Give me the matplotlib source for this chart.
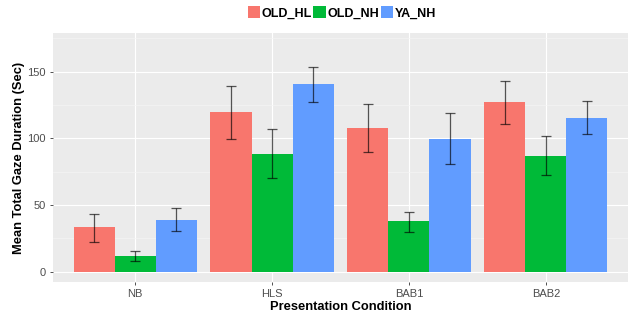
import matplotlib.pyplot as plt
import numpy as np
from matplotlib.patches import Patch

# data
conditions = ["NB", "HLS", "BAB1", "BAB2"]
groups = ["OLD_HL", "OLD_NH", "YA_NH"]
colors = ["#F8766D", "#00BA38", "#619CFF"]

old_hl = [33.3, 119.6, 108.0, 127.3]
old_nh = [11.8, 88.3, 37.8, 87.0]
ya_nh = [38.8, 140.6, 99.8, 115.5]

old_hl_lo = [22.5, 99.3, 90.0, 110.8]
old_hl_hi = [43.1, 139.3, 125.8, 143.3]
old_nh_lo = [8.3, 70.3, 29.8, 72.5]
old_nh_hi = [15.8, 107.0, 44.8, 101.6]
ya_nh_lo = [30.5, 127.0, 81.0, 103.5]
ya_nh_hi = [47.6, 153.5, 119.0, 128.3]

means = [old_hl, old_nh, ya_nh]
lows = [old_hl_lo, old_nh_lo, ya_nh_lo]
highs = [old_hl_hi, old_nh_hi, ya_nh_hi]

plt.rcParams['font.family'] = ['Liberation Sans', 'DejaVu Sans']

fig = plt.figure(figsize=(6.28, 3.16), dpi=100)
ax = fig.add_axes([53 / 628, 1 - 282 / 316, 1 - 53 / 628, (282 - 33) / 316])
ax.set_facecolor("#EBEBEB")

x = np.arange(len(conditions))
bw = 0.3
for i in range(3):
    xs = x + (i - 1) * bw
    m = np.array(means[i])
    lo = m - np.array(lows[i])
    hi = np.array(highs[i]) - m
    ax.bar(xs, m, width=bw, color=colors[i], edgecolor="none", zorder=2)
    ax.errorbar(xs, m, yerr=[lo, hi], fmt="none", ecolor="black", alpha=0.65,
                elinewidth=0.9, capsize=3.6, capthick=0.9, zorder=3)

ax.set_xlim(-0.6, 3.6)
ax.set_ylim(-7.7, 179)
ax.set_yticks([0, 50, 100, 150])
ax.set_yticks([25, 75, 125, 175], minor=True)
ax.set_xticks(x)
ax.set_xticklabels(conditions)

ax.grid(which="major", color="white", linewidth=0.8, zorder=0)
ax.grid(which="minor", axis="y", color="#F5F5F5", linewidth=0.45, zorder=0)
ax.set_axisbelow(True)
for s in ax.spines.values():
    s.set_visible(False)
ax.tick_params(axis="both", which="major", length=2.5, width=0.6, color="#333333",
               labelsize=8, labelcolor="#4D4D4D", pad=2.5)
ax.tick_params(axis="y", which="minor", length=0)

ax.set_xlabel("Presentation Condition", fontsize=9.3, fontweight="bold", labelpad=1.5)
ax.set_ylabel("Mean Total Gaze Duration (Sec)", fontsize=9.3, fontweight="bold", labelpad=2)

handles = [Patch(facecolor=c, edgecolor="none") for c in colors]
fig.legend(handles, groups, loc="center", bbox_to_anchor=(342 / 628, 1 - 13 / 316),
           ncol=3, frameon=False, prop={"weight": "bold", "size": 9},
           handlelength=1.0, handleheight=1.1, handletextpad=0.15, columnspacing=0.1,
           borderpad=0)

fig.savefig("out.png", dpi=100)
